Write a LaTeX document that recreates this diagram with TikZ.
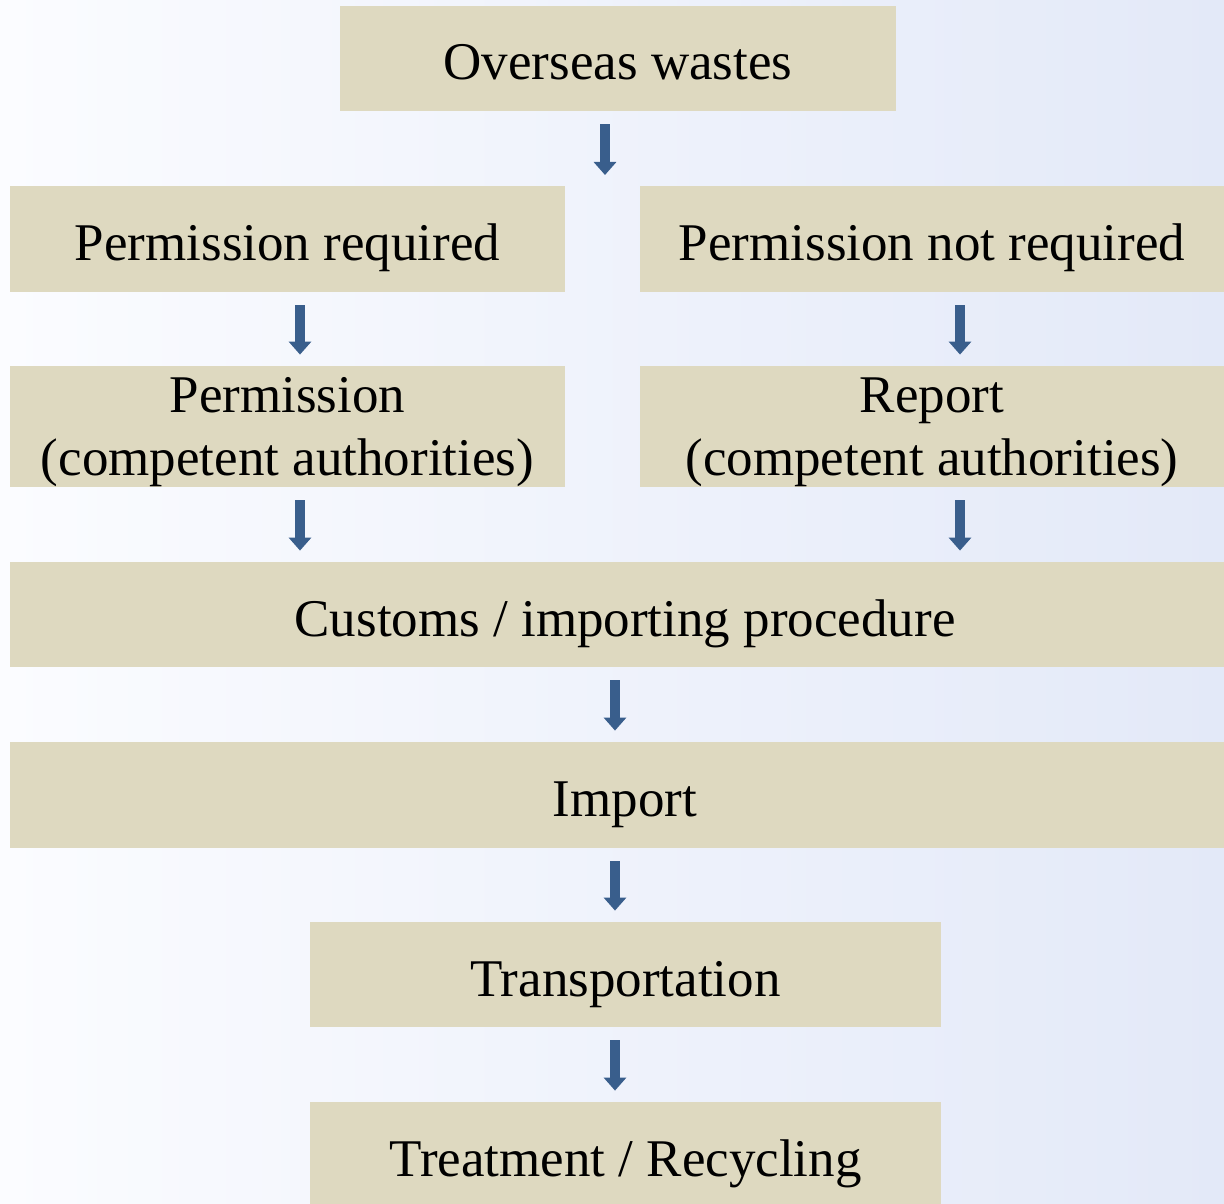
\documentclass[tikz,border=0pt]{standalone}
\usepackage{fontspec}
\setmainfont{Liberation Serif}
\usetikzlibrary{arrows.meta,positioning,calc}
\definecolor{boxfill}{RGB}{222,217,192}
\definecolor{arrowblue}{RGB}{57,94,140}
\definecolor{bgleft}{RGB}{251,252,255}
\definecolor{bgright}{RGB}{227,233,248}

\begin{document}
\begin{tikzpicture}[x=0.5pt,y=-0.5pt]

\tikzset{
    stage/.style={rectangle, fill=boxfill, inner sep=0pt, text centered,
      align=center, font=\fontsize{26.5}{31.5}\selectfont,
      text height=21.5pt, text depth=0pt},
    stage2/.style={stage, text height={}, text depth=0pt},
    down/.style={draw=arrowblue, line width=5pt,
      -{Triangle[length=6.5pt,width=11pt]},
      shorten <=6.5pt, shorten >=5.5pt},
}

  \shade [left color=bgleft, right color=bgright] (0,0) rectangle (1224,1203);
  \useasboundingbox (0,0) rectangle (1224,1203);

  % columns of the arrows
  \coordinate (lcol) at (300,0);
  \coordinate (rcol) at (960,0);
  \coordinate (mcol) at (615,0);
  \coordinate (split) at (605,186);

  \node [stage, minimum width=278pt, minimum height=52.5pt]
  (waste) at (618,58.5) {Overseas wastes};

  \node [stage, minimum width=277.5pt, minimum height=53pt]
  (preq) at (287.5,239) {Permission required};
  \node [stage, minimum width=292pt, minimum height=53pt]
  (pnot) at (932,239) {Permission not required};

  \node [stage2, minimum width=277.5pt, minimum height=60.5pt]
  (perm) at (287.5,426.5) {Permission\\(competent authorities)};
  \node [stage2, minimum width=292pt, minimum height=60.5pt]
  (rep) at (932,426.5) {Report\\(competent authorities)};

  \node [stage, minimum width=615pt, minimum height=52.5pt]
  (cust) at (625,614.5) {Customs / importing procedure};

  \node [stage, minimum width=615pt, minimum height=53pt]
  (imp) at (625,795) {Import};

  \node [stage, minimum width=315.5pt, minimum height=52.5pt]
  (trans) at (625.5,974.5) {Transportation};

  \node [stage, minimum width=315.5pt, minimum height=52.5pt]
  (treat) at (625.5,1154.5) {Treatment / Recycling};

  \draw [down] (waste.south -| split) -- (split);
  \draw [down] (preq.south -| lcol) -- (perm.north -| lcol);
  \draw [down] (pnot.south -| rcol) -- (rep.north -| rcol);
  \draw [down] (perm.south -| lcol) -- (cust.north -| lcol);
  \draw [down] (rep.south -| rcol) -- (cust.north -| rcol);
  \draw [down] (cust.south -| mcol) -- (imp.north -| mcol);
  \draw [down] (imp.south -| mcol) -- (trans.north -| mcol);
  \draw [down] (trans.south -| mcol) -- (treat.north -| mcol);

\end{tikzpicture}
\end{document}
